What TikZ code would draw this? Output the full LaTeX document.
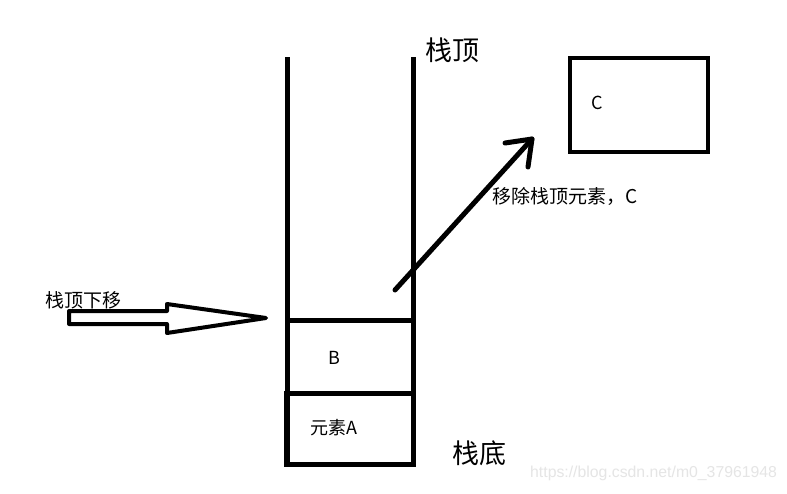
\documentclass[tikz,border=0pt]{standalone}
\usepackage{fontspec}
\setmainfont{Noto Sans CJK SC}
\newfontfamily\wmfont{Liberation Sans}
\begin{document}
\begin{tikzpicture}[x=1pt,y=-1pt,
  wall/.style={line width=5pt,line cap=butt},
  thick line/.style={line width=5pt,line cap=round},
  lbl/.style={inner sep=0pt,font=\fontsize{18}{18}\selectfont},
  wide lbl/.style={inner sep=0pt,font=\fontsize{19}{19}\selectfont},
  big/.style={inner sep=0pt,font=\fontsize{27}{27}\selectfont},
  hollow/.style={line width=4pt,line join=round}]
\useasboundingbox[fill=white] (0,0) rectangle (787,493);
% stack walls
\coordinate (lt) at (287,57);
\coordinate (lb) at (287,466);
\coordinate (rt) at (413,57);
\coordinate (rb) at (413,466);
\draw[wall] (lt) -- (lb);
\draw[wall] (rt) -- (rb);
\draw[wall] (284,464) -- (415.5,464);
\draw[wall] (287,320) -- (416,320);
\draw[wall] (284,393.5) -- (415,393.5);
\draw[wall] (286.5,393.5) -- (286.5,466);
% labels in stack
\node[lbl] (b) at (334,358) {B};
\node[lbl] (a) at (334,428) {元素A};
\node[big] (top) at (452,50) {栈顶};
\node[big] (bot) at (479,453) {栈底};
% box C
\draw[line width=4.5pt] (570,58) rectangle (708,152);
\node[lbl] (c) at (597,103) {C};
% removal arrow
\coordinate (s) at (395,290);
\coordinate (e) at (532,139);
\coordinate (h1) at (505,143);
\coordinate (h2) at (528,167);
\draw[thick line] (s) -- (e);
\draw[thick line,line join=round] (h1) -- (e) -- (h2);
\node[wide lbl,anchor=west] (rm) at (492,196) {移除栈顶元素，C};
% hollow arrow
\draw[hollow] (69,311) -- (167,311) -- (167,304) -- (266,318) -- (167,333) -- (167,324) -- (69,324) -- cycle;
\node[wide lbl,anchor=west] (mv) at (45,300) {栈顶下移};
% watermark
\node[inner sep=0pt,anchor=west,text=black!10,font=\wmfont\fontsize{15.8}{15.8}\selectfont] (wm) at (530,473) {https://blog.csdn.net/m0\_37961948};
\end{tikzpicture}
\end{document}
